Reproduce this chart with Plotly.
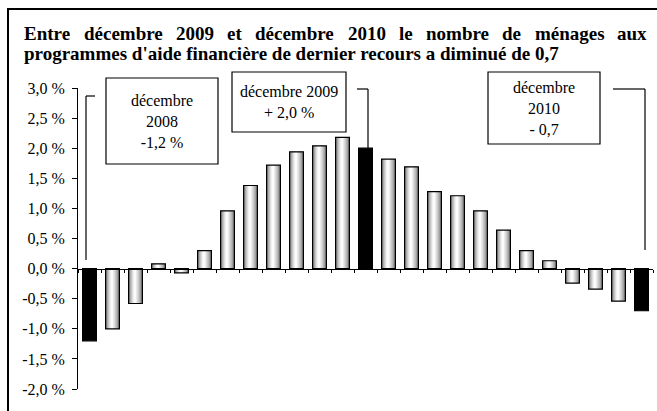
import plotly.graph_objects as go

# ---------------- data ----------------
months = ["déc. 2008", "janv. 2009", "févr. 2009", "mars 2009", "avr. 2009", "mai 2009",
          "juin 2009", "juil. 2009", "août 2009", "sept. 2009", "oct. 2009", "nov. 2009",
          "déc. 2009", "janv. 2010", "févr. 2010", "mars 2010", "avr. 2010", "mai 2010",
          "juin 2010", "juil. 2010", "août 2010", "sept. 2010", "oct. 2010", "nov. 2010",
          "déc. 2010"]
variation = [-1.2, -1.0, -0.58, 0.08, -0.07, 0.30, 0.96, 1.38, 1.72, 1.94, 2.04, 2.18,
             2.0, 1.82, 1.69, 1.28, 1.21, 0.96, 0.64, 0.30, 0.13, -0.24, -0.34, -0.54, -0.7]
highlight = ["déc. 2008", "déc. 2009", "déc. 2010"]
tick_vals = [-2.0, -1.5, -1.0, -0.5, 0.0, 0.5, 1.0, 1.5, 2.0, 2.5, 3.0]
tick_text = ["-2,0 %", "-1,5 %", "-1,0 %", "-0,5 %", "0,0 %", "0,5 %", "1,0 %",
             "1,5 %", "2,0 %", "2,5 %", "3,0 %"]
title_line1 = "Entre décembre 2009 et décembre 2010 le nombre de ménages aux"
title_line2 = "programmes d'aide financière de dernier recours a diminué de 0,7"
box_texts = ["décembre<br>2008<br>-1,2 %", "décembre 2009<br>+ 2,0 %", "décembre<br>2010<br>- 0,7"]

# ---------------- geometry helpers (layout only) ----------------
W_FIG, H_FIG = 657, 411
L, R, T, B = 78, 4, 88, 22
PW = W_FIG - L - R
PH = H_FIG - T - B


def px(x):
    return (x - L) / PW


def py(y):
    return (H_FIG - B - y) / PH


FONT = "Liberation Serif"

fig = go.Figure()

# gradient-like bars: stacked overlays of decreasing width
layers = [(0.6, "#858585"), (0.5, "#a0a0a0"), (0.4, "#bcbcbc"), (0.3, "#d6d6d6"),
          (0.2, "#ebebeb"), (0.1, "#fbfbfb")]
for w, c in layers:
    fig.add_trace(go.Bar(x=months, y=variation, width=w, offset=-w / 2 - 0.03 * (0.6 - w) / 0.5,
                         marker=dict(color=c, line=dict(width=0)),
                         showlegend=False, hoverinfo="skip"))

top_colors = ["#000000" if m in highlight else "rgba(0,0,0,0)" for m in months]
fig.add_trace(go.Bar(x=months, y=variation, width=0.6,
                     marker=dict(color=top_colors, line=dict(color="#000000", width=1.2)),
                     showlegend=False))

shapes = []
annotations = []

# outer frame
shapes.append(dict(type="rect", xref="paper", yref="paper",
                   x0=px(8), x1=px(700), y0=py(450), y1=py(9),
                   line=dict(color="black", width=2), fillcolor="rgba(0,0,0,0)", layer="above"))

# annotation boxes
boxes = [(106, 218, 78, 164), (232, 346, 72, 132), (488, 600, 72, 144)]
for (x0, x1, y0, y1), txt in zip(boxes, box_texts):
    shapes.append(dict(type="rect", xref="paper", yref="paper",
                       x0=px(x0), x1=px(x1), y0=py(y1), y1=py(y0),
                       line=dict(color="black", width=1.2), fillcolor="white", layer="above"))
    annotations.append(dict(x=px((x0 + x1) / 2), y=py((y0 + y1) / 2), xref="paper", yref="paper",
                            text=txt, showarrow=False, xanchor="center", yanchor="middle",
                            font=dict(family=FONT, size=16, color="black")))

# bracket lines
brackets = [
    [(95, 96), (86, 96), (86, 260)],
    [(357, 89), (368, 89), (368, 148)],
    [(613, 89), (645, 89), (645, 250)],
]
for pts in brackets:
    for (xa, ya), (xb, yb) in zip(pts[:-1], pts[1:]):
        shapes.append(dict(type="line", xref="paper", yref="paper",
                           x0=px(xa), y0=py(ya), x1=px(xb), y1=py(yb),
                           line=dict(color="black", width=1.2), layer="above"))

# title: justified first line (Times-Bold metrics)
TB = {" ": 250, "E": 667, "n": 556, "t": 333, "r": 444, "e": 444, "d": 556, "é": 444,
      "c": 444, "m": 833, "b": 556, "0": 500, "1": 500, "2": 500, "9": 500, "7": 500,
      "l": 278, "o": 500, "s": 389, "g": 500, "a": 500, "u": 556, "x": 500}
TSIZE = 19
words = title_line1.split(" ")
widths = [sum(TB.get(ch, 500) for ch in wd) * TSIZE / 1000 for wd in words]
x_start, x_end = 22, 645
gap = (x_end - x_start - sum(widths)) / (len(words) - 1)
xc = x_start
for wd, wdt in zip(words, widths):
    annotations.append(dict(x=px(xc), y=py(33), xref="paper", yref="paper", text="<b>%s</b>" % wd,
                            showarrow=False, xanchor="left", yanchor="middle",
                            font=dict(family=FONT, size=TSIZE, color="black")))
    xc += wdt + gap
annotations.append(dict(x=px(x_start), y=py(54), xref="paper", yref="paper",
                        text="<b>%s</b>" % title_line2, showarrow=False,
                        xanchor="left", yanchor="middle",
                        font=dict(family=FONT, size=TSIZE, color="black")))

fig.update_layout(
    width=W_FIG, height=H_FIG,
    margin=dict(l=L, r=R, t=T, b=B, pad=0),
    paper_bgcolor="white", plot_bgcolor="white",
    barmode="overlay",
    shapes=shapes, annotations=annotations,
    font=dict(family=FONT, size=16, color="black"),
    xaxis=dict(type="category", categoryorder="array", categoryarray=months,
               range=[-0.5, len(months) - 0.5], showticklabels=False,
               ticks="outside", tickson="boundaries", ticklen=3, tickcolor="black",
               showline=True, linecolor="black", linewidth=1,
               anchor="free", position=0.4, showgrid=False, zeroline=False),
    yaxis=dict(range=[-2, 3], tickvals=tick_vals, ticktext=tick_text,
               ticks="outside", ticklen=5, tickcolor="black",
               showline=True, linecolor="black", linewidth=1,
               showgrid=False, zeroline=False, ticklabelstandoff=4,
               tickfont=dict(family=FONT, size=16, color="black")),
)

fig.write_html("out.html", config={"displayModeBar": False},
               post_script="document.body.style.margin='0px';")
